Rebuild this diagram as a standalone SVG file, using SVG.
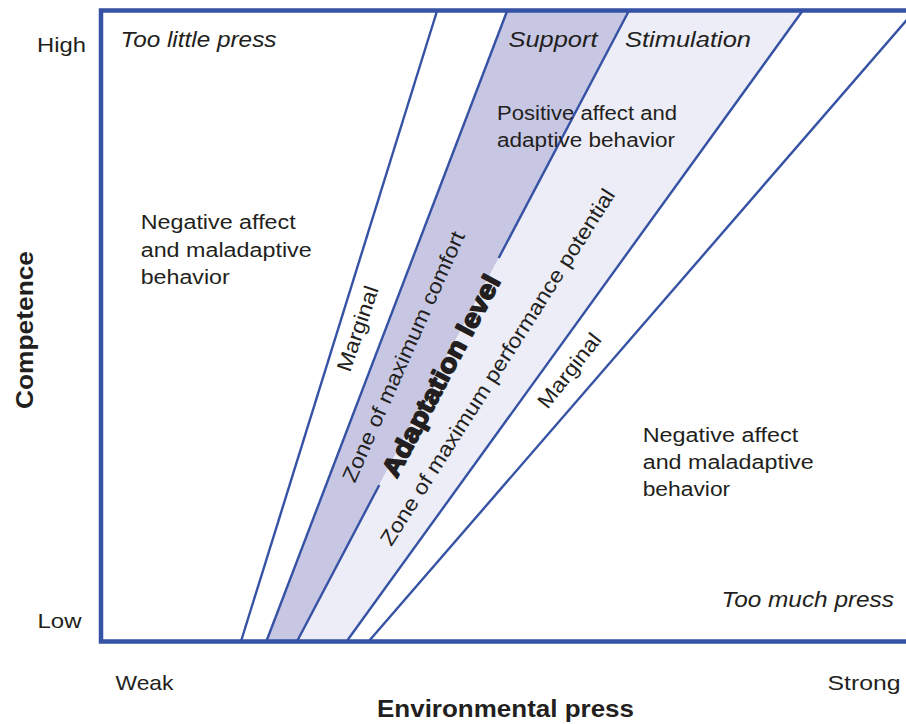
<svg xmlns="http://www.w3.org/2000/svg" width="906" height="724" viewBox="0 0 906 724">
<style>
text { font-family: "Liberation Sans", Arial, sans-serif; fill: #231f20; }
.lbl { font-size: 20px; }
.rot { font-size: 21px; }
.ax { font-size: 21px; }
.it { font-size: 22px; font-style: italic; }
.bold { font-weight: bold; font-size: 24px; }
.heavy { font-weight: bold; font-size: 26px; stroke: #231f20; stroke-width: 1.6; stroke-linejoin: round; }
.line { stroke: #3552a4; stroke-width: 2.4; fill: none; }
.frame { stroke: #3552a4; stroke-width: 4.5; fill: none; }
</style>
<rect width="906" height="724" fill="#ffffff"/>
<g id="bands">
  <polygon id="band-support" points="266.5,641 507.1,11 628.8,11 297.2,641" fill="#c7c7e4"/>
  <polygon id="band-stimulation" points="297.2,641 628.8,11 802.4,11 346.9,641" fill="#ededf7"/>
</g>
<g id="connectors">
  <line class="line" x1="241.1" y1="641" x2="437.0" y2="11"/>
  <line class="line" x1="266.5" y1="641" x2="507.1" y2="11"/>
  <line class="line" x1="297.2" y1="641" x2="379.3" y2="485"/>
  <line class="line" x1="498.7" y1="258" x2="628.8" y2="11"/>
  <line class="line" x1="346.9" y1="641" x2="802.4" y2="11"/>
  <line class="line" x1="369" y1="641" x2="914.6" y2="11"/>
</g>
<g id="frame">
  <path class="frame" d="M910,10.5 H101 V641.5 H910"/>
</g>
<g id="axis-labels">
  <text class="ax" x="37" y="52" textLength="49" lengthAdjust="spacingAndGlyphs">High</text>
  <text class="ax" x="37.5" y="628" textLength="44" lengthAdjust="spacingAndGlyphs">Low</text>
  <text class="ax" x="115.5" y="689.5" textLength="58" lengthAdjust="spacingAndGlyphs">Weak</text>
  <text class="ax" x="827.5" y="690" textLength="73" lengthAdjust="spacingAndGlyphs">Strong</text>
  <text class="bold" x="377" y="716.5" textLength="257" lengthAdjust="spacingAndGlyphs">Environmental press</text>
  <text class="bold" transform="translate(32.7,330) rotate(-90)" text-anchor="middle" textLength="158" lengthAdjust="spacingAndGlyphs">Competence</text>
</g>
<g id="node-too-little">
  <text class="it" x="120.5" y="46.5" textLength="156" lengthAdjust="spacingAndGlyphs">Too little press</text>
</g>
<g id="node-support">
  <text class="it" x="508.5" y="46.5" textLength="89" lengthAdjust="spacingAndGlyphs">Support</text>
</g>
<g id="node-stimulation">
  <text class="it" x="625" y="46.5" textLength="126" lengthAdjust="spacingAndGlyphs">Stimulation</text>
</g>
<g id="node-positive">
  <text class="lbl" x="497" y="120" textLength="180" lengthAdjust="spacingAndGlyphs">Positive affect and</text>
  <text class="lbl" x="497" y="146.5" textLength="178" lengthAdjust="spacingAndGlyphs">adaptive behavior</text>
</g>
<g id="node-negative-left">
  <text class="lbl" x="140.7" y="229" textLength="155" lengthAdjust="spacingAndGlyphs">Negative affect</text>
  <text class="lbl" x="140.7" y="256.5" textLength="171" lengthAdjust="spacingAndGlyphs">and maladaptive</text>
  <text class="lbl" x="140.7" y="284" textLength="89" lengthAdjust="spacingAndGlyphs">behavior</text>
</g>
<g id="node-negative-right">
  <text class="lbl" x="642.7" y="441.5" textLength="155.5" lengthAdjust="spacingAndGlyphs">Negative affect</text>
  <text class="lbl" x="642.7" y="468.5" textLength="171" lengthAdjust="spacingAndGlyphs">and maladaptive</text>
  <text class="lbl" x="642.7" y="495.5" textLength="87.5" lengthAdjust="spacingAndGlyphs">behavior</text>
</g>
<g id="node-too-much">
  <text class="it" x="721.5" y="607" textLength="172.5" lengthAdjust="spacingAndGlyphs">Too much press</text>
</g>
<g id="node-marginal-left">
  <text class="rot" transform="translate(364.5,331) rotate(-71)" text-anchor="middle" textLength="89" lengthAdjust="spacingAndGlyphs">Marginal</text>
</g>
<g id="node-comfort">
  <text class="rot" transform="translate(410,359.5) rotate(-66)" text-anchor="middle" textLength="272" lengthAdjust="spacingAndGlyphs">Zone of maximum comfort</text>
</g>
<g id="node-adaptation">
  <text class="heavy" transform="translate(449,380) rotate(-62.2)" text-anchor="middle" textLength="224" lengthAdjust="spacingAndGlyphs">Adaptation level</text>
</g>
<g id="node-performance">
  <text class="rot" transform="translate(503.5,371) rotate(-57.5)" text-anchor="middle" textLength="418" lengthAdjust="spacingAndGlyphs">Zone of maximum performance potential</text>
</g>
<g id="node-marginal-right">
  <text class="rot" transform="translate(575,375) rotate(-52)" text-anchor="middle" textLength="89" lengthAdjust="spacingAndGlyphs">Marginal</text>
</g>
</svg>
